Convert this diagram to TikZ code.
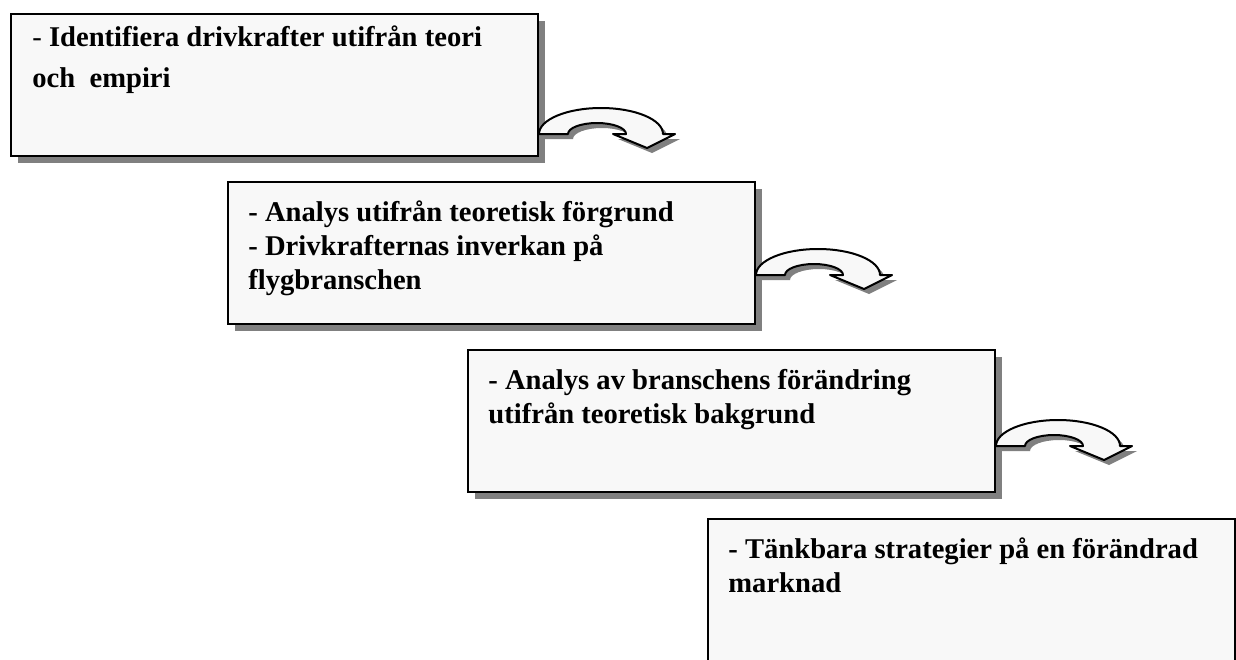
\documentclass[tikz,border=0pt]{standalone}
\usepackage{fontspec}
\setmainfont{Liberation Serif}
\usepackage{tikz}
\usetikzlibrary{positioning, shadows, calc}

\definecolor{boxfill}{HTML}{F8F8F8}
\definecolor{shadowgray}{HTML}{808080}

\tikzset{
  stagebox/.style={draw=black, line width=1pt, fill=boxfill, rectangle,
    minimum width=263.5pt, minimum height=71pt, anchor=north west, inner sep=0pt,
    drop shadow={shadow xshift=3.5pt, shadow yshift=-3.5pt, fill=shadowgray, opacity=1}},
  stagetext/.style={anchor=north west, align=left, inner sep=0pt,
    font=\fontsize{14.3pt}{17pt}\selectfont\bfseries},
  bendarrow/.pic={
    \filldraw[draw=black, line width=1pt, fill=boxfill, line join=round,
      drop shadow={shadow xshift=2.5pt, shadow yshift=-2.5pt, fill=shadowgray, opacity=1}]
      (0,0) arc[start angle=180, end angle=360, x radius=62, y radius=26]
      -- (136,0) -- (108,14) -- (74,0) -- (87,0)
      arc[start angle=0, end angle=-180, x radius=29, y radius=11] -- cycle;
  }
}

\begin{document}
\begin{tikzpicture}[x=0.5pt, y=-0.5pt]
  \useasboundingbox (0,0) rectangle (1236,659);
  % the four stages
  \node[stagebox] (b1) at (10,13) {};
  \node[stagebox] (b2) at (227,181) {};
  \node[stagebox] (b3) at (467,349) {};
  \node[stagebox] (b4) at (707,518) {};
  \node[stagetext, font=\fontsize{14.3pt}{20.5pt}\selectfont\bfseries] (t1) at ($(b1.north west)+(22,12)$)
    {{\mdseries -} Identifiera drivkrafter utifrån teori\\och~~empiri};
  \node[stagetext] (t2) at ($(b2.north west)+(21,19)$)
    {- Analys utifrån teoretisk förgrund\\- Drivkrafternas inverkan på\\flygbranschen};
  \node[stagetext] (t3) at ($(b3.north west)+(21,20)$)
    {- Analys av branschens förändring\\utifrån teoretisk bakgrund};
  \node[stagetext] (t4) at ($(b4.north west)+(21,19)$)
    {- Tänkbara strategier på en förändrad\\marknad};
  % turning arrows
  \pic at ($(b1.south east)+(0,-23)$) {bendarrow};
  \pic at ($(b2.south east)+(0,-50)$) {bendarrow};
  \pic at ($(b3.south east)+(0,-47)$) {bendarrow};
\end{tikzpicture}
\end{document}
